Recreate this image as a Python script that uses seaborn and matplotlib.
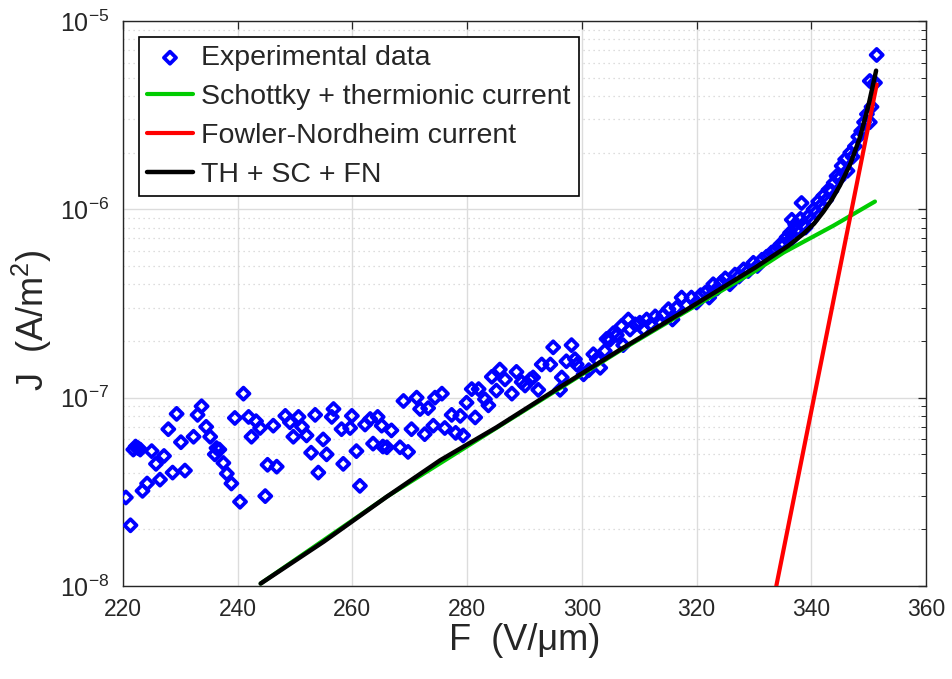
"""
J-F characteristic: experimental data vs Schottky / Fowler-Nordheim fits
"""

import numpy as np
import matplotlib
matplotlib.use("Agg")
import matplotlib.pyplot as plt
import seaborn as sns
from matplotlib.ticker import FixedLocator, LogLocator, FuncFormatter, NullFormatter

F_DATA = [
    220.5, 221.3, 221.8, 222.2, 222.6, 223.0, 223.4, 224.2, 225.0, 225.75,
    226.45, 227.15, 227.9, 228.65, 229.35, 230.1, 230.8, 232.3, 233.0, 233.7,
    234.5, 235.2, 236.0, 236.3, 236.8, 237.5, 238.1, 238.9, 239.5, 240.4,
    241.0, 241.9, 242.4, 243.2, 243.9, 244.8, 245.2, 246.2, 246.8, 248.3,
    249.1, 249.7, 250.6, 251.2, 252.0, 252.8, 253.5, 254.05, 254.9, 255.5,
    256.4, 256.7, 258.1, 258.4, 259.6, 259.9, 260.7, 261.3, 262.2, 263.1,
    263.6, 264.4, 265.1, 265.3, 266.0, 266.8, 268.3, 268.9, 269.7, 270.3,
    271.2, 271.8, 272.6, 273.2, 274.1, 274.4, 275.6, 276.1, 277.3, 278.0,
    278.8, 279.3, 279.9, 280.8, 281.4, 282.0, 283.1, 283.7, 284.3, 285.1,
    285.7, 286.6, 287.8, 288.6, 289.5, 290.1, 291.0, 291.5, 292.4, 293.0,
    294.5, 295.0, 296.2, 296.5, 297.3, 298.2, 298.8, 299.1, 300.3, 301.2,
    302.0, 302.6, 303.2, 304.0, 304.3, 304.9, 305.5, 306.1, 306.9, 307.2,
    308.1, 308.4, 309.3, 310.1, 310.8, 311.3, 312.0, 312.8, 313.5, 314.2,
    315.1, 315.8, 316.5, 317.4, 318.2, 319.1, 320.0, 320.7, 321.5, 322.2,
    322.9, 323.6, 324.3, 325.0, 325.8, 326.7, 327.4, 328.2, 329.0, 329.9,
    330.6, 331.4, 332.2, 333.1, 333.8, 334.6, 335.2, 335.7, 336.3, 336.6,
    336.6, 337.2, 337.4, 338.1, 338.3, 338.6, 339.0, 339.5, 340.0, 340.4,
    340.8, 341.2, 341.7, 342.1, 342.6, 343.0, 343.5, 343.9, 344.4, 344.8,
    345.3, 345.9, 346.3, 346.8, 347.2, 347.6, 348.2, 348.7, 349.2, 349.7,
    350.2, 350.5, 350.2, 351.1, 351.4,
]
J_DATA = [
    2.95e-8, 2.1e-8, 5.3e-8, 5.5e-8, 5.4e-8, 5.3e-8, 3.2e-8, 3.5e-8, 5.2e-8, 4.45e-8,
    3.67e-8, 4.9e-8, 6.8e-8, 4.0e-8, 8.2e-8, 5.8e-8, 4.1e-8, 6.2e-8, 8.1e-8, 9.0e-8,
    7.0e-8, 6.2e-8, 5.0e-8, 5.4e-8, 5.3e-8, 4.5e-8, 3.95e-8, 3.5e-8, 7.8e-8, 2.8e-8,
    1.05e-7, 7.9e-8, 6.2e-8, 7.5e-8, 6.9e-8, 3.0e-8, 4.4e-8, 7.1e-8, 4.3e-8, 8.0e-8,
    7.4e-8, 6.2e-8, 7.9e-8, 7.0e-8, 6.3e-8, 5.1e-8, 8.1e-8, 4.0e-8, 6.0e-8, 5.0e-8,
    7.9e-8, 8.7e-8, 6.8e-8, 4.45e-8, 6.9e-8, 8.0e-8, 5.2e-8, 3.4e-8, 7.2e-8, 7.7e-8,
    5.7e-8, 7.9e-8, 7.1e-8, 5.5e-8, 5.45e-8, 6.7e-8, 5.45e-8, 9.6e-8, 5.15e-8, 6.8e-8,
    1.0e-7, 8.7e-8, 6.4e-8, 8.8e-8, 7.1e-8, 1.0e-7, 1.05e-7, 6.9e-8, 8.1e-8, 6.5e-8,
    8.0e-8, 6.3e-8, 9.4e-8, 1.11e-7, 7.85e-8, 1.11e-7, 9.8e-8, 9.1e-8, 1.29e-7, 1.09e-7,
    1.41e-7, 1.25e-7, 1.05e-7, 1.37e-7, 1.21e-7, 1.16e-7, 1.25e-7, 1.28e-7, 1.1e-7, 1.5e-7,
    1.5e-7, 1.85e-7, 1.1e-7, 1.28e-7, 1.56e-7, 1.9e-7, 1.6e-7, 1.5e-7, 1.33e-7, 1.4e-7,
    1.7e-7, 1.6e-7, 1.44e-7, 1.77e-7, 2.05e-7, 2.03e-7, 2.2e-7, 2.15e-7, 2.4e-7, 1.9e-7,
    2.6e-7, 2.3e-7, 2.45e-7, 2.5e-7, 2.3e-7, 2.6e-7, 2.45e-7, 2.7e-7, 2.55e-7, 2.75e-7,
    2.95e-7, 2.6e-7, 3.0e-7, 3.4e-7, 3.1e-7, 3.4e-7, 3.2e-7, 3.5e-7, 3.6e-7, 3.4e-7,
    4.0e-7, 3.8e-7, 4.1e-7, 4.3e-7, 4.0e-7, 4.5e-7, 4.4e-7, 4.8e-7, 4.7e-7, 5.2e-7,
    5.0e-7, 5.4e-7, 5.6e-7, 5.9e-7, 6.1e-7, 6.5e-7, 6.5e-7, 7.1e-7, 7.5e-7, 7.0e-7,
    8.8e-7, 8.3e-7, 7.7e-7, 8.9e-7, 1.08e-6, 8.3e-7, 8.0e-7, 9.2e-7, 8.8e-7, 1.0e-6,
    9.6e-7, 1.1e-6, 1.05e-6, 1.18e-6, 1.12e-6, 1.27e-6, 1.25e-6, 1.38e-6, 1.5e-6, 1.45e-6,
    1.7e-6, 1.84e-6, 1.6e-6, 2.0e-6, 1.9e-6, 2.16e-6, 2.43e-6, 2.6e-6, 2.9e-6, 3.2e-6,
    2.9e-6, 3.5e-6, 4.8e-6, 4.7e-6, 6.6e-6,
]

# fitted curves
F_SC = [244.0, 266.0, 285.1, 306.7, 318.0, 330.2, 335.2, 343.9, 351.1]
J_SC = [1.03e-8, 2.98e-8, 6.9e-8, 1.78e-7, 2.85e-7, 4.7e-7, 5.9e-7, 8.2e-7, 1.1e-6]

F_FN = [333.9, 351.4]
J_FN = [1.0e-8, 4.6e-6]

F_TOT = [244.0, 255.0, 266.0, 275.3, 285.1, 295.0, 306.7, 318.0, 330.2, 336.0,
         338.6, 340.5, 342.1, 343.6, 345.0, 346.8, 348.5, 350.0, 351.3]
J_TOT = [1.03e-8, 1.72e-8, 2.98e-8, 4.65e-8, 6.95e-8, 1.08e-7, 1.8e-7, 2.9e-7, 4.9e-7, 6.4e-7,
         7.4e-7, 8.4e-7, 9.7e-7, 1.13e-6, 1.34e-6, 1.74e-6, 2.42e-6, 3.6e-6, 5.45e-6]

XTICKS = [220, 240, 260, 280, 300, 320, 340, 360]
YTICKS = [1e-8, 1e-7, 1e-6, 1e-5]

TEXT_COLOR = "#262626"
GRID_COLOR = "#dcdcdc"

sns.set_theme(style="white")
plt.rcParams["font.family"] = ["Liberation Sans", "DejaVu Sans"]
plt.rcParams["mathtext.default"] = "regular"

fig = plt.figure(figsize=(9.52, 6.79), dpi=100)
fig.patch.set_facecolor("#ffffff")
ax = fig.add_axes([0.1292, 0.137, 0.8435, 0.8321])

sns.scatterplot(
    x=F_DATA, y=J_DATA, ax=ax, marker="D", s=38,
    facecolor="none", edgecolor="#0000ff", linewidth=2.7,
    label="Experimental data", zorder=3,
)
sns.lineplot(x=F_SC, y=J_SC, ax=ax, color="#00cc00", linewidth=3,
             sort=False, estimator=None, label="Schottky + thermionic current", zorder=4)
sns.lineplot(x=F_FN, y=J_FN, ax=ax, color="#ff0000", linewidth=3,
             sort=False, estimator=None, label="Fowler-Nordheim current", zorder=5)
sns.lineplot(x=F_TOT, y=J_TOT, ax=ax, color="#000000", linewidth=3.2,
             sort=False, estimator=None, label="TH + SC + FN", zorder=6)

ax.set_yscale("log")
ax.set_xlim(220, 360)
ax.set_ylim(1e-8, 1e-5)

ax.xaxis.set_major_locator(FixedLocator(XTICKS))
ax.yaxis.set_major_locator(FixedLocator(YTICKS))
ax.yaxis.set_minor_locator(LogLocator(base=10, subs=np.arange(2, 10)))
ax.yaxis.set_minor_formatter(NullFormatter())
ax.yaxis.set_major_formatter(
    FuncFormatter(lambda v, p: "$10^{%d}$" % int(round(np.log10(v))))
)

# matlab-like box, inward ticks on all sides
ax.tick_params(which="both", direction="in", top=True, right=True, colors=TEXT_COLOR)
ax.tick_params(axis="x", labelsize=16.5, pad=9)
ax.tick_params(axis="y", labelsize=18, pad=10)
ax.tick_params(which="major", length=6, width=0.9)
ax.tick_params(which="minor", length=3.5, width=0.7)
for side in ["top", "right", "left", "bottom"]:
    ax.spines[side].set_color(TEXT_COLOR)
    ax.spines[side].set_linewidth(1.0)

ax.grid(which="major", color=GRID_COLOR, linewidth=1.0, linestyle="-")
ax.grid(which="minor", axis="y", color="#d2d2d2", linewidth=0.9, linestyle=(0, (1, 3)))
ax.set_axisbelow(True)

ax.set_xlabel("F  (V/\u03bcm)", fontsize=26, color=TEXT_COLOR, labelpad=1)
ax.set_ylabel("J  (A/m$^2$)", fontsize=26, color=TEXT_COLOR)
ax.yaxis.set_label_coords(-0.086, 0.47)

leg = ax.legend(loc="upper left", fontsize=20.5, frameon=True, fancybox=False,
                edgecolor="#000000", framealpha=1.0, borderaxespad=0.55,
                handlelength=1.6, handletextpad=0.3, labelspacing=0.45,
                borderpad=0.3, markerscale=1.0)
leg.get_frame().set_linewidth(1.2)

fig.savefig("out.png", dpi=100)
plt.close(fig)
